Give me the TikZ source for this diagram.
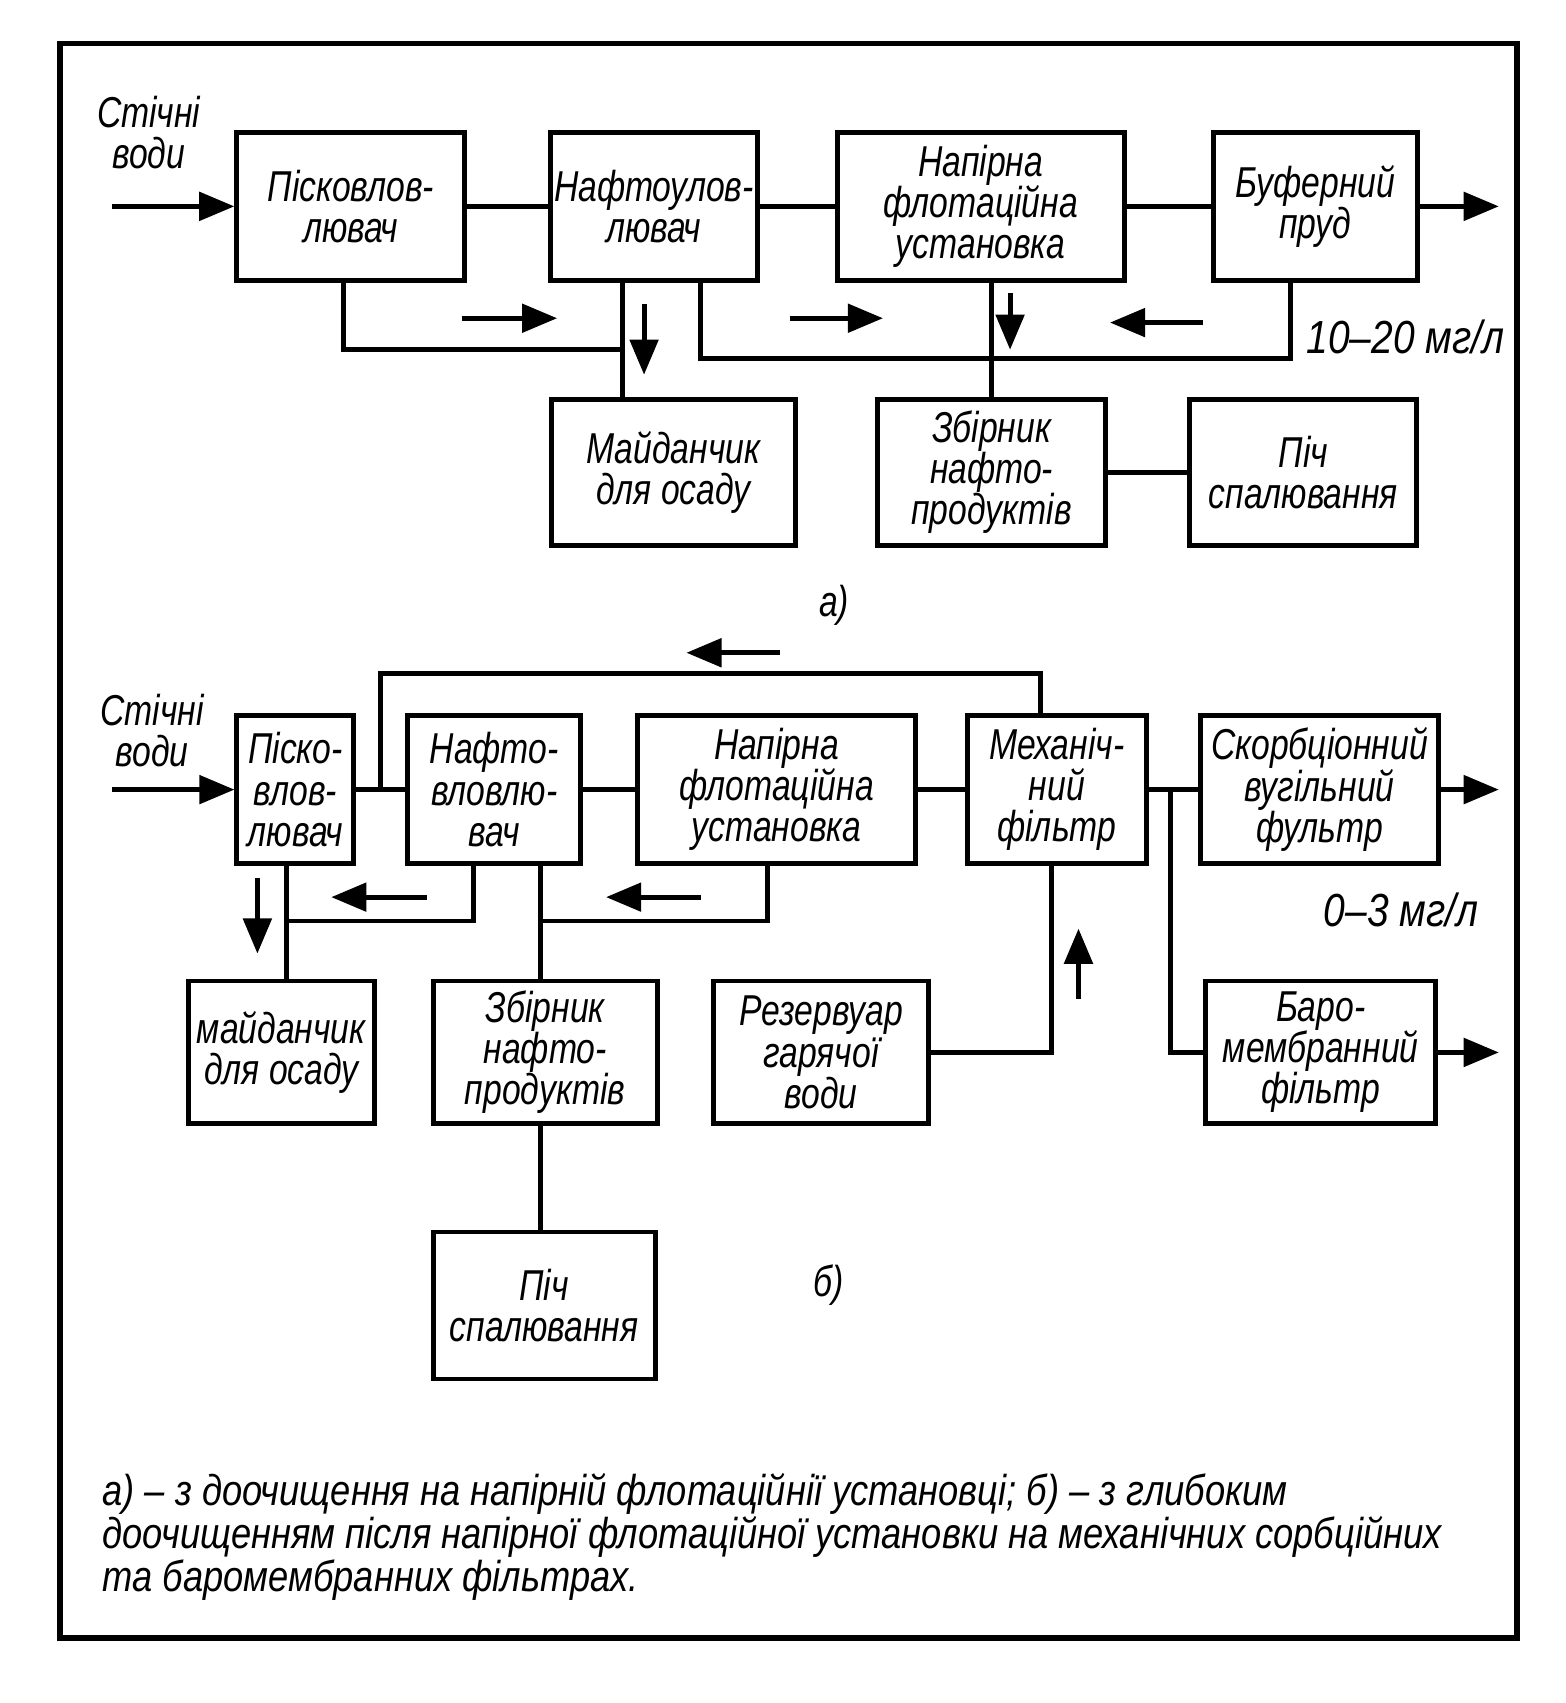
\documentclass[tikz,border=0pt]{standalone}
\usepackage{fontspec}
\newfontfamily\gostfont{Liberation Sans}[FakeStretch=0.78]
\newfontfamily\gostwide{Liberation Sans}[FakeStretch=0.84]
\newcommand{\gost}{\gostfont\itshape\fontsize{12.3}{11.7}\selectfont}
\newcommand{\gostnote}{\gostwide\itshape\fontsize{12.3}{12.2}\selectfont}
\usetikzlibrary{arrows.meta, positioning}
\tikzset{
    % Text of the whole scheme
    every node/.style={font=\gost, align=center},
    % Process block
    block/.style={
        rectangle,
        draw=black,
        line width=1.4pt,
        minimum height=1.48cm,
        inner sep=1pt,
        align=center
    },
    % Concentration label
    conc/.style={
        font=\gostwide\itshape\fontsize{13.2}{13.5}\selectfont
    },
    % Pipe line
    pipe/.style={
        line width=1.4pt
    },
    % Flow arrow
    flow/.style={
        line width=1.4pt,
        -{Triangle[length=10pt,width=8pt]}
    }
}

\begin{document}
\begin{tikzpicture}[x=0.01086cm, y=-0.01086cm]
        \useasboundingbox (0,0) rectangle (1441,1568);
        \draw [line width=1.6pt] (55,40) rectangle (1397,1508);

        % a) scheme
        \node (pesk) [block, minimum width=2.28cm] at (323,190) {Пісковлов-\\лювач};
        \node (naft) [block, minimum width=2.07cm] at (602,190) {Нафтоулов-\\лювач};
        \node (flot) [block, minimum width=2.87cm] at (903,190) {Напірна\\флотаційна\\установка};
        \node (buf) [block, minimum width=2.04cm] at (1211,190) {Буферний\\пруд};
        \node (maid) [block, minimum width=2.44cm, minimum height=1.46cm] at (620,435) {Майданчик\\для осаду};
        \node (zbir) [block, minimum width=2.28cm, minimum height=1.46cm] at (913,435) {Збірник\\нафто-\\продуктів};
        \node (pich) [block, minimum width=2.27cm, minimum height=1.46cm] at (1200,435) {Піч\\спалювання};
        \node (in1) at (137,122) {Стічні\\води};
        \node (conc1) [conc] at (1294,310) {10–20 мг/л};
        \node (capa) at (768,557) {а)};

        \coordinate (src1) at (103,190);
        \coordinate (out1) at (1380,190);
        \coordinate (p1) at (316,322);
        \coordinate (j1) at (573,322);
        \coordinate (q1) at (645,330);
        \coordinate (q2) at (1188,330);

        \draw [flow] (src1) -- (pesk);
        \draw [pipe] (pesk) -- (naft);
        \draw [pipe] (naft) -- (flot);
        \draw [pipe] (flot) -- (buf);
        \draw [flow] (buf) -- (out1);
        \draw [pipe] (pesk.south -| p1) -- (p1) -- (j1);
        \draw [pipe] (naft.south -| j1) -- (maid.north -| j1);
        \draw [pipe] (naft.south -| q1) -- (q1) -- (q2) -- (buf.south -| q2);
        \draw [pipe] (flot.south -| zbir) -- (zbir.north);
        \draw [pipe] (zbir) -- (pich);

        \draw [flow] (425,293) -- (513,293);
        \draw [flow] (593,280) -- (593,345);
        \draw [flow] (727,293) -- (813,293);
        \draw [flow] (930,270) -- (930,322);
        \draw [flow] (1108,297) -- (1022,297);

        % b) scheme
        \node (pesk2) [block, minimum width=1.17cm] at (272,727) {Піско-\\влов-\\лювач};
        \node (naft2) [block, minimum width=1.73cm] at (455,727) {Нафто-\\вловлю-\\вач};
        \node (flot2) [block, minimum width=2.78cm] at (715,727) {Напірна\\флотаційна\\установка};
        \node (mech) [block, minimum width=1.79cm] at (973,727) {Механіч-\\ний\\фільтр};
        \node (sorb) [block, minimum width=2.38cm] at (1215,727) {Скорбціонний\\вугільний\\фультр};
        \node (baro) [block, minimum width=2.30cm, minimum height=1.43cm] at (1216,969) {Баро-\\мембранний\\фільтр};
        \node (maid2) [block, minimum width=1.86cm, minimum height=1.43cm] at (259,969) {майданчик\\для осаду};
        \node (zbir2) [block, minimum width=2.24cm, minimum height=1.43cm] at (502,969) {Збірник\\нафто-\\продуктів};
        \node (rez) [block, minimum width=2.15cm, minimum height=1.43cm] at (756,969) {Резервуар\\гарячої\\води};
        \node (pich2) [block, minimum width=2.22cm, minimum height=1.47cm] at (501,1202) {Піч\\спалювання};
        \node (in2) at (140,673) {Стічні\\води};
        \node (conc2) [conc] at (1290,838) {0–3 мг/л};
        \node (capb) at (763,1183) {б)};

        \coordinate (src2) at (103,727);
        \coordinate (out2) at (1380,727);
        \coordinate (out3) at (1380,969);
        \coordinate (r1) at (350,620);
        \coordinate (r2) at (958,620);
        \coordinate (s1) at (1078,969);
        \coordinate (t1) at (264,848);
        \coordinate (t2) at (436,848);
        \coordinate (u1) at (498,848);
        \coordinate (u2) at (707,848);
        \coordinate (v1) at (968,969);

        \draw [flow] (src2) -- (pesk2);
        \draw [pipe] (pesk2) -- (naft2);
        \draw [pipe] (naft2) -- (flot2);
        \draw [pipe] (flot2) -- (mech);
        \draw [pipe] (mech) -- (sorb);
        \draw [flow] (sorb) -- (out2);
        \draw [pipe] (r1 |- pesk2) -- (r1) -- (r2) -- (mech.north -| r2);
        \draw [pipe] (s1 |- mech) -- (s1) -- (baro.west);
        \draw [flow] (baro) -- (out3);
        \draw [pipe] (pesk2.south -| t1) -- (maid2.north -| t1);
        \draw [pipe] (naft2.south -| t2) -- (t2) -- (t1);
        \draw [pipe] (naft2.south -| u1) -- (zbir2.north -| u1);
        \draw [pipe] (flot2.south -| u2) -- (u2) -- (u1);
        \draw [pipe] (zbir2.south -| u1) -- (pich2.north -| u1);
        \draw [pipe] (rez.east) -- (v1) -- (mech.south -| v1);

        \draw [flow] (718,601) -- (632,601);
        \draw [flow] (393,826) -- (305,826);
        \draw [flow] (237,808) -- (237,878);
        \draw [flow] (645,826) -- (558,826);
        \draw [flow] (993,920) -- (993,855);

        % caption
        \node (note) [anchor=west, align=left, font=\gostnote] at (83,1415) {а) – з доочищення на напірній флотаційнії установці; б) – з глибоким\\доочищенням після напірної флотаційної установки на механічних сорбційних\\та баромембранних фільтрах.};
\end{tikzpicture}
\end{document}
